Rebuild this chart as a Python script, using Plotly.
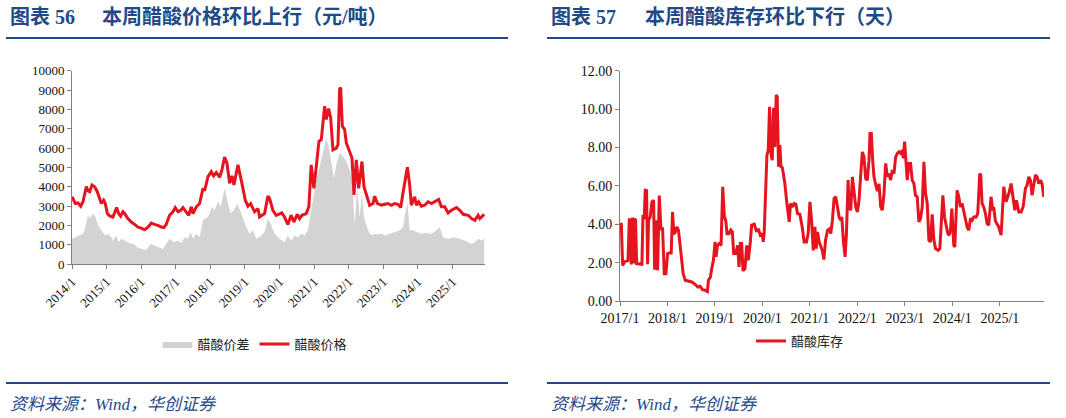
import pandas as pd
import plotly.graph_objects as go

# ---------------- data ----------------
# Chart 56: acetic acid price (yuan/ton) and spread, x in decimal years
price_year = [2014.000, 2014.096, 2014.173, 2014.250, 2014.318, 2014.414, 2014.462, 2014.511, 2014.578, 2014.655,
              2014.732, 2014.800, 2014.848, 2014.915, 2014.963, 2015.021, 2015.089, 2015.185, 2015.233, 2015.291,
              2015.349, 2015.407, 2015.474, 2015.522, 2015.618, 2015.715, 2015.811, 2015.908, 2016.004, 2016.100,
              2016.197, 2016.293, 2016.389, 2016.486, 2016.582, 2016.659, 2016.726, 2016.823, 2016.919, 2016.987,
              2017.064, 2017.141, 2017.208, 2017.304, 2017.372, 2017.449, 2017.497, 2017.593, 2017.690, 2017.786,
              2017.834, 2017.931, 2018.027, 2018.094, 2018.171, 2018.268, 2018.335, 2018.412, 2018.480, 2018.557,
              2018.624, 2018.682, 2018.749, 2018.798, 2018.913, 2019.010, 2019.087, 2019.164, 2019.279, 2019.376,
              2019.424, 2019.568, 2019.665, 2019.713, 2019.809, 2019.905, 2020.068, 2020.145, 2020.241, 2020.338,
              2020.415, 2020.512, 2020.579, 2020.647, 2020.772, 2020.849, 2020.917, 2020.994, 2021.062, 2021.139,
              2021.207, 2021.303, 2021.351, 2021.419, 2021.477, 2021.544, 2021.641, 2021.689, 2021.737, 2021.766,
              2021.815, 2021.882, 2021.931, 2022.027, 2022.095, 2022.153, 2022.220, 2022.288, 2022.384, 2022.442,
              2022.539, 2022.606, 2022.703, 2022.751, 2022.828, 2022.944, 2023.041, 2023.137, 2023.234, 2023.330,
              2023.427, 2023.504, 2023.600, 2023.697, 2023.764, 2023.813, 2023.909, 2023.958, 2024.025, 2024.102,
              2024.199, 2024.295, 2024.392, 2024.488, 2024.604, 2024.681, 2024.778, 2024.875, 2024.971, 2025.116,
              2025.212, 2025.309, 2025.454, 2025.550, 2025.647, 2025.743, 2025.792, 2025.917]
price_value = [3480, 3130, 3160, 2990, 3220, 4000, 3790, 3740, 4090, 4000,
               3740, 3300, 3130, 3300, 3130, 2610, 2490, 2430, 2700, 2920,
               2610, 2470, 2700, 2610, 2350, 2170, 2050, 1910, 1860, 1770,
               1910, 2120, 2050, 2000, 1910, 1880, 2050, 2520, 2700, 2920,
               2700, 2780, 2920, 2700, 2520, 2960, 2610, 2960, 3130, 3910,
               3790, 4520, 4780, 4560, 4730, 4490, 4870, 5530, 5220, 4170,
               4560, 4090, 4780, 5130, 4170, 3300, 2990, 3130, 2700, 2870,
               2430, 2610, 3510, 3390, 2780, 2520, 2640, 2430, 2050, 2520,
               2170, 2570, 2350, 2520, 2610, 2960, 5130, 3910, 5040, 6350,
               6430, 8170, 7480, 8040, 7570, 5910, 6000, 6170, 9040, 9130,
               7130, 6960, 6260, 5740, 5480, 3570, 5390, 3910, 5300, 4000,
               3480, 3040, 3130, 3510, 3130, 3040, 3090, 3130, 3040, 3130,
               3090, 2920, 4000, 5010, 4090, 3040, 3480, 3040, 3220, 2990,
               3040, 3220, 3130, 3220, 3340, 2960, 2960, 2640, 2780, 2920,
               2780, 2570, 2520, 2350, 2260, 2520, 2350, 2570]

spread_year = [2014.000, 2014.125, 2014.222, 2014.318, 2014.385, 2014.462, 2014.511, 2014.607, 2014.674, 2014.751,
               2014.848, 2014.944, 2015.040, 2015.137, 2015.185, 2015.281, 2015.349, 2015.426, 2015.522, 2015.667,
               2015.811, 2015.908, 2016.052, 2016.148, 2016.274, 2016.389, 2016.534, 2016.630, 2016.726, 2016.823,
               2016.948, 2017.064, 2017.160, 2017.256, 2017.353, 2017.430, 2017.497, 2017.593, 2017.690, 2017.786,
               2017.931, 2018.046, 2018.123, 2018.220, 2018.297, 2018.412, 2018.489, 2018.586, 2018.682, 2018.778,
               2018.894, 2019.039, 2019.135, 2019.231, 2019.328, 2019.424, 2019.568, 2019.665, 2019.742, 2019.857,
               2020.002, 2020.145, 2020.241, 2020.338, 2020.434, 2020.531, 2020.627, 2020.724, 2020.820, 2020.898,
               2020.965, 2021.062, 2021.158, 2021.284, 2021.351, 2021.419, 2021.496, 2021.573, 2021.641, 2021.737,
               2021.834, 2021.931, 2022.027, 2022.095, 2022.172, 2022.249, 2022.317, 2022.384, 2022.442, 2022.558,
               2022.654, 2022.751, 2022.847, 2022.944, 2023.041, 2023.185, 2023.330, 2023.475, 2023.571, 2023.639,
               2023.697, 2023.764, 2023.861, 2023.958, 2024.102, 2024.247, 2024.392, 2024.537, 2024.633, 2024.730,
               2024.875, 2025.068, 2025.212, 2025.357, 2025.550, 2025.647, 2025.743, 2025.840, 2025.917]
spread_value = [1300, 1390, 1480, 1570, 1910, 2520, 2350, 2610, 2430, 2000,
                1740, 1480, 1570, 1390, 1220, 1480, 1130, 1300, 1220, 1080,
                1010, 830, 780, 730, 1040, 960, 870, 780, 1040, 1300,
                1130, 1220, 1080, 1390, 1300, 1650, 1300, 1570, 1390, 2260,
                2430, 2960, 2780, 3220, 2960, 3910, 3300, 2610, 2780, 3130,
                2610, 1910, 1570, 1740, 1300, 1390, 1650, 2350, 2090, 1570,
                1300, 1130, 1480, 1220, 1480, 1390, 1570, 1480, 1740, 2610,
                3480, 4350, 5040, 6090, 6520, 6090, 5220, 4430, 5130, 5740,
                5570, 5300, 4870, 4350, 2000, 4000, 2430, 3650, 2430, 1740,
                1480, 1570, 1520, 1570, 1480, 1570, 1650, 1740, 1910, 2610,
                3220, 1740, 1740, 1650, 1570, 1610, 1570, 1740, 1910, 1390,
                1300, 1390, 1300, 1220, 1040, 1130, 1300, 1220, 1300]

# Chart 57: acetic acid inventory (days)
stock_year = [2017.000, 2017.028, 2017.056, 2017.098, 2017.168, 2017.196, 2017.217, 2017.238, 2017.266, 2017.287,
              2017.308, 2017.329, 2017.350, 2017.406, 2017.462, 2017.483, 2017.511, 2017.532, 2017.560, 2017.581,
              2017.602, 2017.637, 2017.673, 2017.708, 2017.729, 2017.764, 2017.792, 2017.827, 2017.862, 2017.897,
              2017.932, 2017.967, 2018.002, 2018.037, 2018.079, 2018.107, 2018.135, 2018.163, 2018.198, 2018.233,
              2018.268, 2018.303, 2018.331, 2018.373, 2018.443, 2018.513, 2018.583, 2018.639, 2018.688, 2018.737,
              2018.793, 2018.842, 2018.863, 2018.905, 2018.933, 2018.968, 2019.004, 2019.025, 2019.053, 2019.088,
              2019.130, 2019.165, 2019.200, 2019.228, 2019.256, 2019.298, 2019.333, 2019.368, 2019.396, 2019.438,
              2019.480, 2019.508, 2019.536, 2019.564, 2019.592, 2019.634, 2019.669, 2019.704, 2019.746, 2019.774,
              2019.830, 2019.879, 2019.914, 2019.956, 2019.998, 2020.019, 2020.040, 2020.068, 2020.096, 2020.124,
              2020.152, 2020.180, 2020.208, 2020.236, 2020.264, 2020.292, 2020.313, 2020.341, 2020.370, 2020.391,
              2020.419, 2020.447, 2020.475, 2020.510, 2020.545, 2020.566, 2020.594, 2020.629, 2020.671, 2020.706,
              2020.741, 2020.790, 2020.839, 2020.881, 2020.930, 2020.965, 2021.000, 2021.035, 2021.070, 2021.105,
              2021.133, 2021.161, 2021.196, 2021.231, 2021.259, 2021.294, 2021.329, 2021.371, 2021.420, 2021.439,
              2021.474, 2021.509, 2021.544, 2021.580, 2021.615, 2021.650, 2021.671, 2021.706, 2021.741, 2021.769,
              2021.804, 2021.825, 2021.860, 2021.895, 2021.930, 2021.965, 2022.000, 2022.035, 2022.070, 2022.105,
              2022.140, 2022.175, 2022.210, 2022.245, 2022.266, 2022.294, 2022.322, 2022.350, 2022.385, 2022.420,
              2022.456, 2022.491, 2022.526, 2022.561, 2022.596, 2022.631, 2022.666, 2022.701, 2022.736, 2022.771,
              2022.806, 2022.841, 2022.876, 2022.911, 2022.946, 2022.967, 2022.995, 2023.023, 2023.051, 2023.086,
              2023.121, 2023.156, 2023.191, 2023.226, 2023.261, 2023.296, 2023.331, 2023.367, 2023.402, 2023.437,
              2023.472, 2023.507, 2023.542, 2023.577, 2023.612, 2023.647, 2023.703, 2023.738, 2023.773, 2023.801,
              2023.836, 2023.871, 2023.906, 2023.934, 2023.962, 2023.990, 2024.032, 2024.053, 2024.102, 2024.137,
              2024.172, 2024.207, 2024.242, 2024.278, 2024.313, 2024.348, 2024.383, 2024.418, 2024.453, 2024.502,
              2024.537, 2024.579, 2024.600, 2024.628, 2024.663, 2024.698, 2024.733, 2024.768, 2024.817, 2024.852,
              2024.873, 2024.908, 2024.943, 2024.978, 2025.027, 2025.083, 2025.132, 2025.189, 2025.238, 2025.280,
              2025.315, 2025.350, 2025.399, 2025.448, 2025.490, 2025.539, 2025.574, 2025.609, 2025.644, 2025.679,
              2025.714, 2025.749, 2025.784, 2025.819, 2025.854, 2025.889, 2025.924]
stock_value = [4.00, 4.00, 1.85, 2.05, 2.10, 4.24, 4.24, 1.90, 4.35, 1.95,
               4.30, 4.20, 1.95, 1.92, 1.91, 4.38, 4.35, 5.77, 5.75, 1.91,
               4.20, 4.38, 5.17, 5.25, 1.63, 4.20, 1.60, 5.50, 3.77, 3.77,
               1.42, 1.42, 2.47, 2.50, 2.50, 4.64, 3.50, 3.57, 3.86, 3.68,
               2.90, 2.12, 1.43, 1.08, 1.04, 0.99, 0.87, 0.73, 0.77, 0.59,
               0.56, 0.49, 1.08, 1.25, 1.69, 2.12, 3.08, 2.30, 2.90, 2.99,
               2.90, 5.95, 4.38, 4.20, 3.51, 3.51, 3.70, 3.60, 2.47, 2.47,
               2.90, 1.77, 2.99, 2.99, 1.57, 1.69, 2.90, 2.12, 3.08, 3.95,
               4.00, 3.60, 3.77, 3.43, 3.51, 3.08, 3.60, 5.25, 7.60, 7.86,
               10.12, 7.69, 7.34, 10.07, 8.03, 10.73, 10.65, 7.00, 8.12, 7.00,
               6.96, 6.56, 6.10, 5.25, 4.56, 4.12, 5.08, 4.90, 5.08, 5.04,
               4.56, 4.52, 3.86, 3.08, 3.08, 3.51, 5.17, 4.21, 2.64, 3.86,
               2.73, 3.60, 3.08, 2.82, 2.64, 2.16, 3.17, 3.68, 3.77, 3.51,
               4.21, 5.34, 5.43, 4.90, 4.38, 4.21, 4.38, 3.08, 2.30, 3.51,
               6.30, 4.90, 4.73, 6.47, 5.77, 4.90, 4.64, 5.25, 6.56, 7.77,
               7.50, 6.38, 6.30, 7.34, 8.73, 8.73, 7.34, 6.47, 6.07, 5.72,
               6.10, 4.90, 4.73, 5.60, 7.17, 6.47, 6.64, 6.30, 6.82, 6.64,
               7.50, 7.69, 7.77, 7.69, 7.86, 7.43, 8.30, 7.43, 6.30, 7.17,
               7.17, 6.30, 6.12, 5.50, 5.43, 4.12, 4.30, 4.90, 7.25, 5.60,
               5.08, 3.17, 3.08, 4.52, 3.17, 2.73, 2.64, 2.73, 4.04, 5.51,
               4.38, 3.86, 3.51, 3.43, 3.68, 4.82, 2.90, 2.82, 5.77, 5.43,
               4.90, 5.08, 4.64, 4.38, 3.86, 3.68, 4.30, 4.21, 4.38, 4.38,
               4.56, 6.64, 6.56, 5.08, 4.90, 4.56, 4.04, 3.95, 5.43, 4.73,
               4.90, 4.17, 4.04, 3.86, 3.43, 5.95, 5.17, 5.60, 6.12, 5.25,
               4.73, 5.25, 4.64, 4.64, 4.90, 5.86, 6.03, 6.47, 6.30, 5.51,
               5.95, 6.56, 6.47, 6.12, 6.30, 6.12, 5.43]

left_years = list(range(2014, 2026))
right_years = list(range(2017, 2026))
left_tick_text = [f"{y}/1" for y in left_years]
right_tick_text = [f"{y}/1" for y in right_years]
left_y_ticks = list(range(0, 10001, 1000))
right_y_ticks = [0, 2, 4, 6, 8, 10, 12]


def to_dates(years):
    out = []
    for y in years:
        base = pd.Timestamp(int(y), 1, 1)
        out.append(base + pd.Timedelta(days=(y - int(y)) * 365.25))
    return out


W, H = 1066, 418
RED = "#E5141F"
GRAY = "#D3D3D3"
BLUE = "#1F4A87"
AXIS = "#808080"
SERIF = "Liberation Serif, Times New Roman, Noto Sans CJK SC, serif"
CJK = "Noto Sans CJK SC, sans-serif"


def px_x(p):
    return p / W


def px_y(p):
    return 1 - p / H


fig = go.Figure()

fig.add_trace(go.Scatter(
    x=to_dates(spread_year), y=spread_value, name="醋酸价差",
    mode="lines", line=dict(width=0, color=GRAY), fill="tozeroy", fillcolor=GRAY,
    xaxis="x", yaxis="y", legend="legend"))
fig.add_trace(go.Scatter(
    x=to_dates(price_year), y=price_value, name="醋酸价格",
    mode="lines", line=dict(width=3, color=RED),
    xaxis="x", yaxis="y", legend="legend"))
fig.add_trace(go.Scatter(
    x=to_dates(stock_year), y=stock_value, name="醋酸库存",
    mode="lines", line=dict(width=3, color=RED),
    xaxis="x2", yaxis="y2", legend="legend2"))

axis_common = dict(showline=True, linecolor=AXIS, linewidth=1, ticks="outside",
                   tickcolor=AXIS, ticklen=4, showgrid=False, zeroline=False,
                   automargin=False)

fig.update_layout(
    width=W, height=H,
    margin=dict(l=0, r=0, t=0, b=0, autoexpand=False),
    paper_bgcolor="white", plot_bgcolor="white",
    xaxis=dict(domain=[px_x(72), px_x(485)], anchor="y", type="date",
               range=[to_dates([2014.0])[0], to_dates([2025.94])[0]],
               tickvals=to_dates(left_years), ticktext=left_tick_text, tickangle=-45,
               tickfont=dict(family=SERIF, size=13, color="#111"), **axis_common),
    yaxis=dict(domain=[px_y(264), px_y(70.7)], anchor="x", range=[0, 10000],
               tickvals=left_y_ticks, tickformat="d",
               tickfont=dict(family=SERIF, size=13, color="#111"), **axis_common),
    xaxis2=dict(domain=[px_x(620), px_x(1044)], anchor="y2", type="date",
                range=[to_dates([2017.0])[0], to_dates([2025.93])[0]],
                tickvals=to_dates(right_years), ticktext=right_tick_text, tickangle=0,
                tickfont=dict(family=SERIF, size=14, color="#111"), **axis_common),
    yaxis2=dict(domain=[px_y(301), px_y(70.7)], anchor="x2", range=[0, 12],
                tickvals=right_y_ticks, tickformat=".2f",
                tickfont=dict(family=SERIF, size=14, color="#111"), **axis_common),
    legend=dict(orientation="h", x=px_x(255), xanchor="center", y=px_y(344), yanchor="middle",
                font=dict(family=CJK, size=13, color="#222"), bgcolor="rgba(0,0,0,0)"),
    legend2=dict(orientation="h", x=px_x(800), xanchor="center", y=px_y(341), yanchor="middle",
                 font=dict(family=CJK, size=13, color="#222"), bgcolor="rgba(0,0,0,0)"),
    showlegend=True,
)

# header / footer lines
for x0, x1 in [(6, 508), (547, 1050)]:
    for yy in (38, 383):
        fig.add_shape(type="line", xref="paper", yref="paper",
                      x0=px_x(x0), x1=px_x(x1), y0=px_y(yy), y1=px_y(yy),
                      line=dict(color=BLUE, width=2))

title_font = dict(family=SERIF, size=20, color=BLUE)
annos = [
    (8, "<b>图表 56</b>"), (100, "<b>本周醋酸价格环比上行（元/吨）</b>"),
    (549, "<b>图表 57</b>"), (643, "<b>本周醋酸库存环比下行（天）</b>"),
]
for xx, txt in annos:
    fig.add_annotation(xref="paper", yref="paper", x=px_x(xx), y=px_y(17),
                       xanchor="left", yanchor="middle", text=txt, showarrow=False,
                       font=title_font)
for xx in (8, 549):
    fig.add_annotation(xref="paper", yref="paper", x=px_x(xx), y=px_y(404),
                       xanchor="left", yanchor="middle", text="<i>资料来源：Wind，华创证券</i>",
                       showarrow=False, font=dict(family=SERIF, size=17, color=BLUE))

fig.write_html("out.html")
